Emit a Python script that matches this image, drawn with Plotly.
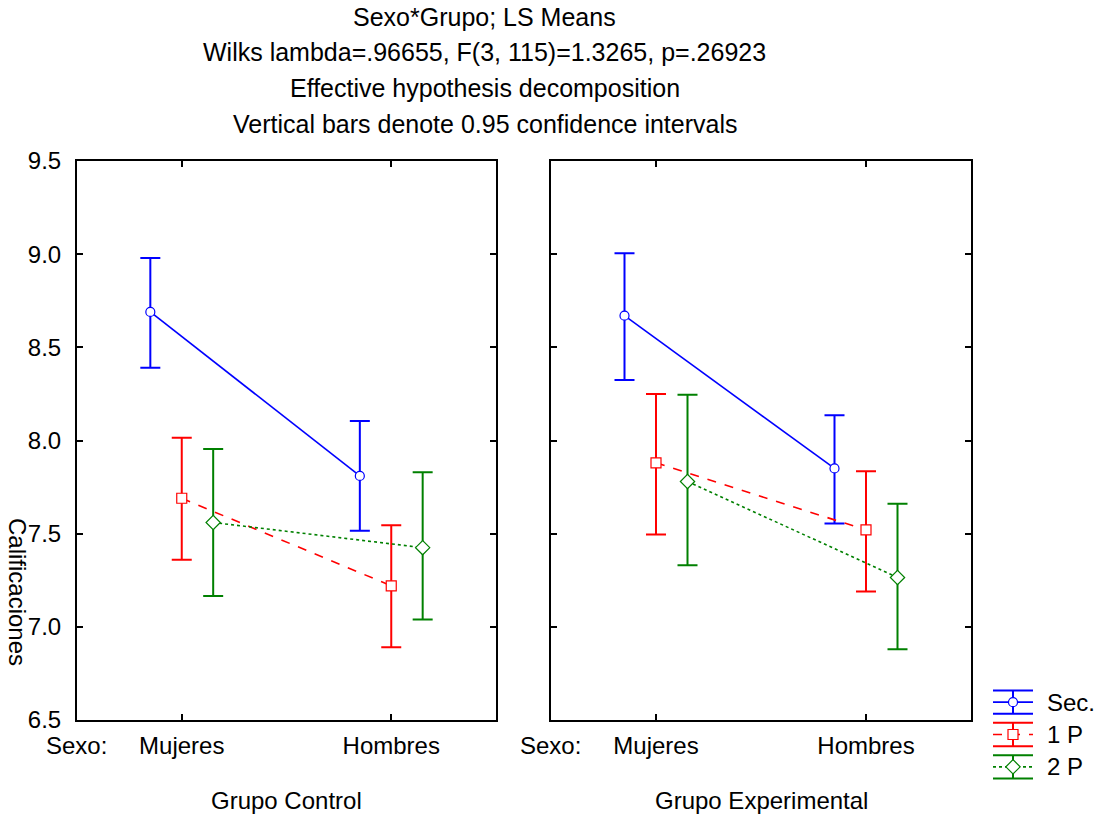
import plotly.graph_objects as go

W, H = 1098, 816

# ---------------- data ----------------
sexo = ["Mujeres", "Hombres"]
series = ["Sec.", "1 P", "2 P"]
grupos = ["Grupo Control", "Grupo Experimental"]

ctrl_sec_mean = [8.69, 7.81]
ctrl_sec_lo = [8.39, 7.515]
ctrl_sec_hi = [8.98, 8.105]
ctrl_1p_mean = [7.69, 7.22]
ctrl_1p_lo = [7.36, 6.89]
ctrl_1p_hi = [8.015, 7.545]
ctrl_2p_mean = [7.56, 7.425]
ctrl_2p_lo = [7.165, 7.04]
ctrl_2p_hi = [7.955, 7.83]

exp_sec_mean = [8.67, 7.85]
exp_sec_lo = [8.325, 7.555]
exp_sec_hi = [9.005, 8.135]
exp_1p_mean = [7.88, 7.52]
exp_1p_lo = [7.495, 7.19]
exp_1p_hi = [8.25, 7.835]
exp_2p_mean = [7.78, 7.265]
exp_2p_lo = [7.33, 6.88]
exp_2p_hi = [8.245, 7.66]

title_lines = [
    "Sexo*Grupo; LS Means",
    "Wilks lambda=.96655, F(3, 115)=1.3265, p=.26923",
    "Effective hypothesis decomposition",
    "Vertical bars denote 0.95 confidence intervals",
]
y_title = "Calificaciones"
x_prefix = "Sexo:"

# ---------------- styles ----------------
FONT = "Liberation Sans, Arial, sans-serif"
FS = 24
FS_TITLE = 25
colors = ["#0000FF", "#FF0000", "#008000"]
dashes = ["solid", "dash", "dot"]
symbols = ["circle", "square", "diamond"]
msizes = [9, 10, 11]
offsets = [-0.15, 0.0, 0.15]

panels = [
    [(ctrl_sec_mean, ctrl_sec_lo, ctrl_sec_hi),
     (ctrl_1p_mean, ctrl_1p_lo, ctrl_1p_hi),
     (ctrl_2p_mean, ctrl_2p_lo, ctrl_2p_hi)],
    [(exp_sec_mean, exp_sec_lo, exp_sec_hi),
     (exp_1p_mean, exp_1p_lo, exp_1p_hi),
     (exp_2p_mean, exp_2p_lo, exp_2p_hi)],
]


def px(x):
    return x / W


def py(y):
    return 1 - y / H


fig = go.Figure()
xs_base = list(range(len(sexo)))
for p, panel in enumerate(panels):
    xa = "x" if p == 0 else "x2"
    ya = "y" if p == 0 else "y2"
    for i, (m, lo, hi) in enumerate(panel):
        fig.add_trace(go.Scatter(
            x=[b + offsets[i] for b in xs_base], y=m,
            xaxis=xa, yaxis=ya, mode="lines+markers", name=series[i],
            showlegend=False,
            line=dict(color=colors[i], width=1.6, dash=dashes[i]),
            marker=dict(symbol=symbols[i], size=msizes[i], color="white",
                        line=dict(color=colors[i], width=1.2)),
            error_y=dict(type="data", symmetric=False,
                         array=[h - v for h, v in zip(hi, m)],
                         arrayminus=[v - l for v, l in zip(m, lo)],
                         color=colors[i], thickness=2, width=10),
        ))

# legend drawn on its own small axis
for i in range(len(series)):
    fig.add_trace(go.Scatter(
        x=[0, 1], y=[i, i], xaxis="x3", yaxis="y3", mode="lines",
        showlegend=False, hoverinfo="skip",
        line=dict(color=colors[i], width=1.6, dash=dashes[i]),
    ))
    fig.add_trace(go.Scatter(
        x=[0.5], y=[i], xaxis="x3", yaxis="y3", mode="markers",
        showlegend=False, hoverinfo="skip",
        marker=dict(symbol=symbols[i], size=msizes[i], color="white",
                    line=dict(color=colors[i], width=1.2)),
        error_y=dict(type="constant", value=0.36, color=colors[i],
                     thickness=2, width=20),
    ))

axis_common = dict(
    showline=True, linecolor="black", linewidth=2, mirror="ticks",
    ticks="inside", ticklen=6, tickwidth=2, tickcolor="black",
    showgrid=False, zeroline=False, automargin=False,
    tickfont=dict(family=FONT, size=FS, color="black"),
)

x_doms = [[px(77), px(496)], [px(551), px(971)]]
y_dom = [py(720), py(161)]

fig.update_layout(
    width=W, height=H,
    margin=dict(l=0, r=0, t=0, b=0, pad=0),
    paper_bgcolor="white", plot_bgcolor="white",
    font=dict(family=FONT, size=FS, color="black"),
    xaxis=dict(domain=x_doms[0], range=[-0.5, 1.5], tickvals=xs_base,
               ticktext=sexo, anchor="y", ticklabelstandoff=3,
               **axis_common),
    yaxis=dict(domain=y_dom, range=[6.5, 9.5], dtick=0.5, tickformat=".1f",
               anchor="x", ticklabelstandoff=9, **axis_common),
    xaxis2=dict(domain=x_doms[1], range=[-0.5, 1.5], tickvals=xs_base,
                ticktext=sexo, anchor="y2", ticklabelstandoff=3,
                **axis_common),
    yaxis2=dict(domain=y_dom, range=[6.5, 9.5], dtick=0.5,
                showticklabels=False, anchor="x2", **axis_common),
    xaxis3=dict(domain=[px(993), px(1033)], range=[0, 1], visible=False,
                anchor="y3", automargin=False),
    yaxis3=dict(domain=[py(783), py(686)], range=[2.5, -0.5], visible=False,
                anchor="x3", automargin=False),
    showlegend=False,
)

ann = []
for k, line in enumerate(title_lines):
    ann.append(dict(text=line, x=px(485), y=py([17, 52, 88, 124][k]),
                    xref="paper", yref="paper", showarrow=False,
                    xanchor="center", yanchor="middle",
                    font=dict(family=FONT, size=FS_TITLE)))
for p in range(2):
    ann.append(dict(text=x_prefix, x=px([76, 550][p]), y=py(745),
                    xref="paper", yref="paper", showarrow=False,
                    xanchor="center", yanchor="middle",
                    font=dict(family=FONT, size=FS)))
    ann.append(dict(text=grupos[p], x=sum(x_doms[p]) / 2, y=py(800),
                    xref="paper", yref="paper", showarrow=False,
                    xanchor="center", yanchor="middle",
                    font=dict(family=FONT, size=FS)))
ann.append(dict(text=y_title, x=px(18), y=py(592), xref="paper", yref="paper",
                showarrow=False, textangle=90, xanchor="center",
                yanchor="middle", font=dict(family=FONT, size=FS)))
for i, s in enumerate(series):
    ann.append(dict(text=s, x=px(1045), y=i, xref="paper", yref="y3",
                    showarrow=False, xanchor="left", yanchor="middle",
                    font=dict(family=FONT, size=FS)))
fig.update_layout(annotations=ann)

fig.write_html("out.html")
